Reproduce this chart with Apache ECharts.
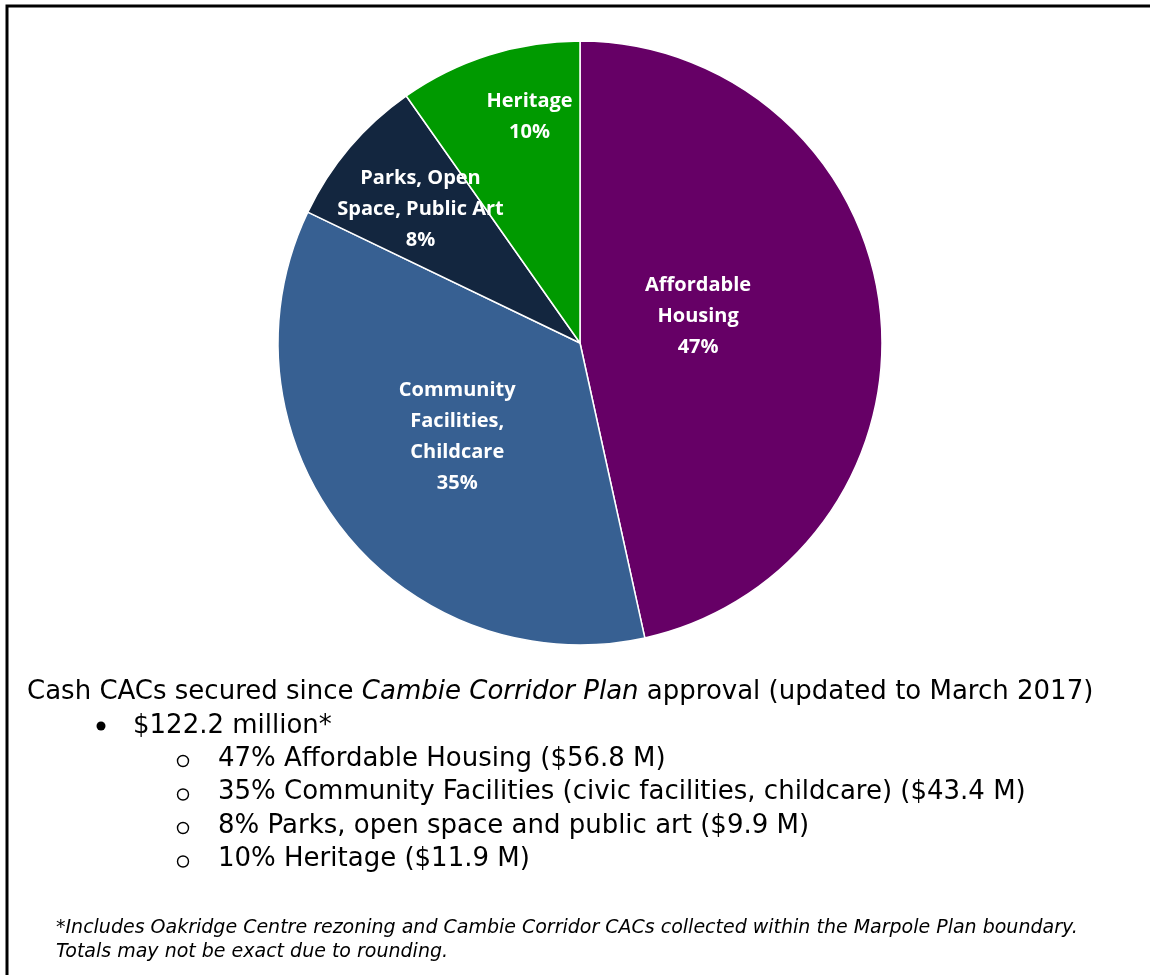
<!DOCTYPE html>
<html>
<head>
<meta charset="utf-8">
<script src="https://cdn.jsdelivr.net/npm/echarts@6/dist/echarts.min.js"></script>
<style>
  html, body { margin: 0; padding: 0; background: #fff; }
  #chart { width: 1150px; height: 975px; }
</style>
</head>
<body>
<div id="chart"></div>
<script>
// slice data (millions of dollars)
const categories = ['Affordable\nHousing', 'Community\nFacilities,\nChildcare', 'Parks, Open\nSpace, Public Art', 'Heritage']
const values = [56.8, 43.4, 9.9, 11.9]
const percents = ['47%', '35%', '8%', '10%']
const colors = ['#660066', '#376092', '#13263f', '#009a00']

// text below the pie
const headline = 'Cash CACs secured since '
const headlineItalic = 'Cambie Corridor Plan'
const headlineEnd = ' approval (updated to March 2017)'
const totalLine = '$122.2 million*'
const breakdown = [
    '47% Affordable Housing ($56.8 M)',
    '35% Community Facilities (civic facilities, childcare) ($43.4 M)',
    '8% Parks, open space and public art ($9.9 M)',
    '10% Heritage ($11.9 M)'
]
const footnotes = [
    '*Includes Oakridge Centre rezoning and Cambie Corridor CACs collected within the Marpole Plan boundary.',
    'Totals may not be exact due to rounding.'
]

// label nudges so they sit where the original put them
const labelShift = [[-35, -10], [-2, -2], [-42, -34], [-4, -79]]

const bodyFont = '"DejaVu Sans", sans-serif'
const chart = echarts.init(document.getElementById('chart'))

const graphics = [
    { type: 'rect', shape: { x: 7, y: 6, width: 1160, height: 990 }, style: { fill: 'none', stroke: '#000', lineWidth: 3 } }
]
// headline, partly italic
graphics.push({
    type: 'text', x: 27, y: 692,
    style: {
        text: '{n|' + headline + '}{i|' + headlineItalic + '}{n|' + headlineEnd + '}',
        verticalAlign: 'middle',
        rich: {
            n: { fontFamily: bodyFont, fontSize: 26, fill: '#000' },
            i: { fontFamily: bodyFont, fontSize: 26, fontStyle: 'italic', fill: '#000' }
        }
    }
})
graphics.push({ type: 'circle', shape: { cx: 101, cy: 726, r: 4.5 }, style: { fill: '#000' } })
graphics.push({ type: 'text', x: 133, y: 726, style: { text: totalLine, fontFamily: bodyFont, fontSize: 26, fill: '#000', verticalAlign: 'middle' } })
breakdown.forEach((t, i) => {
    const y = 759 + i * 33.5
    graphics.push({ type: 'circle', shape: { cx: 183, cy: y + 2, r: 5.5 }, style: { fill: 'none', stroke: '#000', lineWidth: 1.4 } })
    graphics.push({ type: 'text', x: 218, y: y, style: { text: t, fontFamily: bodyFont, fontSize: 26, fill: '#000', verticalAlign: 'middle' } })
})
footnotes.forEach((t, i) => {
    graphics.push({ type: 'text', x: 56, y: 928 + i * 24, style: { text: t, fontFamily: bodyFont, fontSize: 19, fontStyle: 'italic', fill: '#000', verticalAlign: 'middle' } })
})

const option = {
    animation: false,
    backgroundColor: '#fff',
    graphic: graphics,
    series: [{
        type: 'pie',
        center: [580, 343],
        radius: [0, 302],
        startAngle: 90,
        clockwise: true,
        avoidLabelOverlap: false,
        itemStyle: { borderColor: '#fff', borderWidth: 1.5 },
        label: {
            show: true,
            position: 'inside',
            color: '#fff',
            fontFamily: '"Open Sans", sans-serif',
            fontWeight: 'bold',
            fontSize: 20,
            lineHeight: 31,
            align: 'center',
            formatter: p => p.name + '\n' + percents[p.dataIndex]
        },
        labelLine: { show: false },
        emphasis: { disabled: true },
        data: values.map((v, i) => ({
            name: categories[i],
            value: v,
            itemStyle: { color: colors[i] },
            label: { offset: labelShift[i] }
        }))
    }]
}
chart.setOption(option)
</script>
</body>
</html>
